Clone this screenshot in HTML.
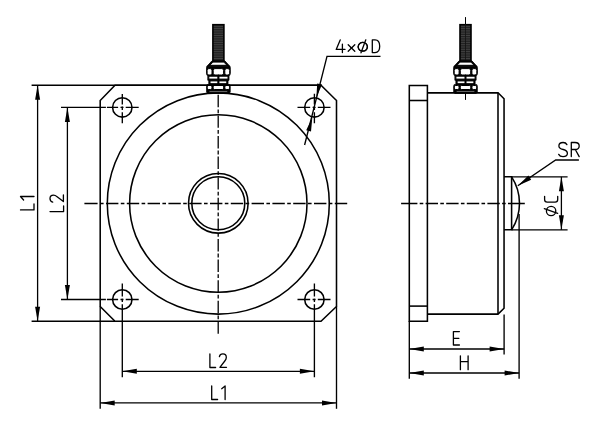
<!DOCTYPE html>
<html><head><meta charset="utf-8"><style>
html,body{margin:0;padding:0;background:#fff;width:600px;height:428px;overflow:hidden}
svg{display:block}
</style></head><body>
<svg width="600" height="428" viewBox="0 0 600 428" stroke="#000" fill="none">
<path d="M115,85.2 L321,85.2 L336.5,100.5 L336.5,306.5 L321,321.2 L115,321.2 L100.2,306.5 L100.2,100.5 Z" stroke-width="1.55" fill="none" />
<ellipse cx="218.3" cy="203.5" rx="111.0" ry="110.6" stroke-width="1.55" fill="none"/>
<circle cx="218.3" cy="203.5" r="88.7" stroke-width="1.55" fill="none"/>
<circle cx="218.3" cy="203.3" r="29.8" stroke-width="1.55" fill="none"/>
<circle cx="218.3" cy="203.3" r="26.5" stroke-width="1.55" fill="none"/>
<circle cx="122.3" cy="107.4" r="9.7" stroke-width="1.55" fill="none"/>
<circle cx="314.4" cy="107.4" r="9.7" stroke-width="1.55" fill="none"/>
<circle cx="122.3" cy="299.5" r="9.7" stroke-width="1.55" fill="none"/>
<circle cx="314.4" cy="299.5" r="9.7" stroke-width="1.55" fill="none"/>
<line x1="61" y1="107.4" x2="105.9" y2="107.4" stroke-width="1.35" />
<path d="M106.9,107.4 L118.1,107.4 M120.5,107.4 L123.5,107.4 M125.7,107.4 L138.7,107.4" stroke-width="1.35" fill="none" />
<path d="M122.3,94.0 L122.3,104.4 M122.3,106.60000000000001 L122.3,110.0 M122.3,112.2 L122.3,123.3" stroke-width="1.35" fill="none" />
<path d="M297.5,107.4 L310.2,107.4 M312.59999999999997,107.4 L315.59999999999997,107.4 M317.79999999999995,107.4 L330.5,107.4" stroke-width="1.35" fill="none" />
<path d="M314.4,93.8 L314.4,104.4 M314.4,106.60000000000001 L314.4,110.0 M314.4,112.2 L314.4,123.3" stroke-width="1.35" fill="none" />
<line x1="61" y1="299.5" x2="105.9" y2="299.5" stroke-width="1.35" />
<path d="M106.9,299.5 L118.1,299.5 M120.5,299.5 L123.5,299.5 M125.7,299.5 L138.7,299.5" stroke-width="1.35" fill="none" />
<path d="M122.3,283.5 L122.3,296.5 M122.3,298.7 L122.3,302.1 M122.3,304.3 L122.3,377.2" stroke-width="1.35" fill="none" />
<path d="M297.5,299.5 L310.2,299.5 M312.59999999999997,299.5 L315.59999999999997,299.5 M317.79999999999995,299.5 L330.5,299.5" stroke-width="1.35" fill="none" />
<path d="M314.4,283.5 L314.4,296.5 M314.4,298.7 L314.4,302.1 M314.4,304.3 L314.4,377.2" stroke-width="1.35" fill="none" />
<path d="M84.40,203.50 L97.60,203.50 M100.00,203.50 L103.60,203.50 M106.00,203.50 L118.40,203.50 M120.80,203.50 L124.40,203.50 M126.80,203.50 L139.20,203.50 M141.60,203.50 L145.20,203.50 M147.60,203.50 L160.00,203.50 M162.40,203.50 L166.00,203.50 M168.40,203.50 L180.80,203.50 M183.20,203.50 L186.80,203.50 M189.20,203.50 L201.60,203.50 M204.00,203.50 L207.60,203.50 M210.00,203.50 L222.40,203.50 M224.80,203.50 L228.40,203.50 M230.80,203.50 L243.20,203.50 M245.60,203.50 L249.20,203.50 M251.60,203.50 L264.00,203.50 M266.40,203.50 L270.00,203.50 M272.40,203.50 L284.80,203.50 M287.20,203.50 L290.80,203.50 M293.20,203.50 L305.60,203.50 M308.00,203.50 L311.60,203.50 M314.00,203.50 L326.40,203.50 M328.80,203.50 L332.40,203.50 M334.80,203.50 L347.20,203.50" stroke-width="1.3" fill="none" />
<path d="M218.20,94.80 L218.20,107.20 M218.20,109.40 L218.20,113.20 M218.20,115.40 L218.20,127.80 M218.20,130.00 L218.20,133.80 M218.20,136.00 L218.20,148.40 M218.20,150.60 L218.20,154.40 M218.20,156.60 L218.20,169.00 M218.20,171.20 L218.20,175.00 M218.20,177.20 L218.20,189.60 M218.20,191.80 L218.20,195.60 M218.20,197.80 L218.20,210.20 M218.20,212.40 L218.20,216.20 M218.20,218.40 L218.20,230.80 M218.20,233.00 L218.20,236.80 M218.20,239.00 L218.20,251.40 M218.20,253.60 L218.20,257.40 M218.20,259.60 L218.20,272.00 M218.20,274.20 L218.20,278.00 M218.20,280.20 L218.20,292.60 M218.20,294.80 L218.20,298.60 M218.20,300.80 L218.20,313.20 M218.20,315.40 L218.20,319.20 M218.20,321.40 L218.20,333.80" stroke-width="1.3" fill="none" />
<line x1="31.6" y1="85.2" x2="115" y2="85.2" stroke-width="1.35" />
<line x1="31.6" y1="321.2" x2="115" y2="321.2" stroke-width="1.35" />
<line x1="100.2" y1="306.5" x2="100.2" y2="408.8" stroke-width="1.35" />
<line x1="336.5" y1="306.5" x2="336.5" y2="408.8" stroke-width="1.35" />
<line x1="37.6" y1="85.2" x2="37.6" y2="321.2" stroke-width="1.3" />
<path d="M37.60,85.20 L40.10,99.70 L35.10,99.70 Z" fill="#000" stroke="none"/>
<path d="M37.60,321.20 L35.10,306.70 L40.10,306.70 Z" fill="#000" stroke="none"/>
<line x1="67.4" y1="107.4" x2="67.4" y2="299.5" stroke-width="1.3" />
<path d="M67.40,107.40 L69.90,121.90 L64.90,121.90 Z" fill="#000" stroke="none"/>
<path d="M67.40,299.50 L64.90,285.00 L69.90,285.00 Z" fill="#000" stroke="none"/>
<line x1="100.2" y1="402.9" x2="336.5" y2="402.9" stroke-width="1.3" />
<path d="M100.20,402.90 L114.70,400.40 L114.70,405.40 Z" fill="#000" stroke="none"/>
<path d="M336.50,402.90 L322.00,405.40 L322.00,400.40 Z" fill="#000" stroke="none"/>
<line x1="122.3" y1="371.3" x2="314.4" y2="371.3" stroke-width="1.3" />
<path d="M122.30,371.30 L136.80,368.80 L136.80,373.80 Z" fill="#000" stroke="none"/>
<path d="M314.40,371.30 L299.90,373.80 L299.90,368.80 Z" fill="#000" stroke="none"/>
<path d="M380.5,56.3 L327,56.3 L304.6,145" stroke-width="1.35" fill="none" />
<path d="M316.40,97.60 L317.17,83.43 L322.03,84.57 Z" fill="#000" stroke="none"/>
<path d="M312.30,117.60 L311.01,131.57 L306.19,130.23 Z" fill="#000" stroke="none"/>
<path d="M409.3,85.5 L427.4,85.5 L427.4,321.3 L409.3,321.3 Z" stroke-width="1.55" fill="none" />
<line x1="409.3" y1="100.5" x2="427.4" y2="100.5" stroke-width="1.55" />
<line x1="409.3" y1="306.1" x2="427.4" y2="306.1" stroke-width="1.55" />
<path d="M427.4,92.75 L498.0,92.75 L504.05,98.8 L504.05,308.2 L498.0,314.1 L427.4,314.1" stroke-width="1.55" fill="none" />
<line x1="498.0" y1="92.75" x2="498.0" y2="314.1" stroke-width="1.55" />
<path d="M504.1,176.8 L511.6,176.8 L511.6,229.8 L504.1,229.8" stroke-width="1.55" fill="none" />
<path d="M511.6,176.8 A48.40,48.40 0 0 1 511.6,229.8" stroke-width="1.55" fill="none" />
<path d="M401.10,203.50 L417.40,203.50 M419.70,203.50 L423.30,203.50 M425.60,203.50 L438.00,203.50 M440.30,203.50 L443.90,203.50 M446.20,203.50 L458.60,203.50 M460.90,203.50 L464.50,203.50 M466.80,203.50 L479.20,203.50 M481.50,203.50 L485.10,203.50 M487.40,203.50 L499.80,203.50 M502.10,203.50 L505.70,203.50 M508.00,203.50 L524.80,203.50" stroke-width="1.3" fill="none" />
<line x1="465.5" y1="17.1" x2="465.5" y2="99.7" stroke-width="1.0" />
<line x1="409.3" y1="321.1" x2="409.3" y2="378.8" stroke-width="1.35" />
<line x1="504.1" y1="314.5" x2="504.1" y2="354.5" stroke-width="1.35" />
<line x1="519.1" y1="214" x2="519.1" y2="378.8" stroke-width="1.35" />
<line x1="511.6" y1="176.8" x2="567.6" y2="176.8" stroke-width="1.35" />
<line x1="511.6" y1="229.8" x2="567.6" y2="229.8" stroke-width="1.35" />
<line x1="409.3" y1="349.0" x2="504.1" y2="349.0" stroke-width="1.3" />
<path d="M409.30,349.00 L423.80,346.50 L423.80,351.50 Z" fill="#000" stroke="none"/>
<path d="M504.10,349.00 L489.60,351.50 L489.60,346.50 Z" fill="#000" stroke="none"/>
<line x1="409.3" y1="373.0" x2="519.1" y2="373.0" stroke-width="1.3" />
<path d="M409.30,373.00 L423.80,370.50 L423.80,375.50 Z" fill="#000" stroke="none"/>
<path d="M519.10,373.00 L504.60,375.50 L504.60,370.50 Z" fill="#000" stroke="none"/>
<line x1="561.4" y1="176.8" x2="561.4" y2="229.8" stroke-width="1.3" />
<path d="M561.40,176.80 L563.90,191.30 L558.90,191.30 Z" fill="#000" stroke="none"/>
<path d="M561.40,229.80 L558.90,215.30 L563.90,215.30 Z" fill="#000" stroke="none"/>
<path d="M578.9,160 L555.7,160 L517.8,185.8" stroke-width="1.35" fill="none" />
<path d="M517.80,185.80 L528.39,175.54 L531.21,179.66 Z" fill="#000" stroke="none"/>
<rect x="212.9" y="24.7" width="11" height="37" fill="#222" stroke="#000" stroke-width="1.6"/>
<path d="M213.8,26.30 H223.0 M213.8,28.60 H223.0 M213.8,30.90 H223.0 M213.8,33.20 H223.0 M213.8,35.50 H223.0 M213.8,37.80 H223.0 M213.8,40.10 H223.0 M213.8,42.40 H223.0 M213.8,44.70 H223.0 M213.8,47.00 H223.0 M213.8,49.30 H223.0 M213.8,51.60 H223.0 M213.8,53.90 H223.0 M213.8,56.20 H223.0 M213.8,58.50 H223.0" stroke="#4a4a4a" stroke-width="0.8"/>
<path d="M212.0,60.8 L224.8,60.8 L229.20000000000002,65.6 L229.8,65.9 L230.3,67.6 L230.3,73.6 L229.8,75.3 L229.0,75.4 L229.0,80.3 L228.0,80.4 L228.0,84.6 L229.8,84.7 L230.20000000000002,86.2 L230.20000000000002,92.0 L229.20000000000002,93.4 L207.6,93.4 L206.6,92.0 L206.6,86.2 L207.0,84.7 L208.8,84.6 L208.8,80.4 L207.8,80.3 L207.8,75.4 L207.0,75.3 L206.5,73.6 L206.5,67.6 L207.0,65.9 L207.6,65.6 Z" fill="#000" stroke="#000" stroke-width="0.8" stroke-linejoin="round"/>
<path d="M213.0,62.1 L223.8,62.1 L227.0,65.3 L209.8,65.3 Z" fill="#fff"/>
<rect x="208.8" y="66.75" width="19.2" height="0.8" fill="#bbb"/>
<rect x="207.1" y="68.6" width="4.90" height="6.4" rx="1.8" fill="#fff"/>
<rect x="213.20000000000002" y="68.6" width="10.40" height="6.4" rx="1.8" fill="#fff"/>
<rect x="224.8" y="68.6" width="4.90" height="6.4" rx="1.8" fill="#fff"/>
<rect x="208.8" y="76.2" width="9.10" height="2.9" fill="#fff"/>
<rect x="218.9" y="76.2" width="9.10" height="2.9" fill="#fff"/>
<rect x="210.0" y="80.9" width="7.90" height="2.8" fill="#fff"/>
<rect x="218.9" y="80.9" width="7.90" height="2.8" fill="#fff"/>
<rect x="207.20000000000002" y="85.5" width="4.80" height="4.0" rx="1.4" fill="#fff"/>
<rect x="213.1" y="85.5" width="10.60" height="4.0" rx="1.4" fill="#fff"/>
<rect x="224.8" y="85.5" width="4.80" height="4.0" rx="1.4" fill="#fff"/>
<rect x="209.0" y="90.9" width="18.8" height="1.5" fill="#c8c8c8"/>
<line x1="218.4" y1="74.6" x2="218.4" y2="85.5" stroke="#000" stroke-width="1.0"/>
<rect x="460.0" y="24.7" width="11" height="37" fill="#222" stroke="#000" stroke-width="1.6"/>
<path d="M460.9,26.30 H470.1 M460.9,28.60 H470.1 M460.9,30.90 H470.1 M460.9,33.20 H470.1 M460.9,35.50 H470.1 M460.9,37.80 H470.1 M460.9,40.10 H470.1 M460.9,42.40 H470.1 M460.9,44.70 H470.1 M460.9,47.00 H470.1 M460.9,49.30 H470.1 M460.9,51.60 H470.1 M460.9,53.90 H470.1 M460.9,56.20 H470.1 M460.9,58.50 H470.1" stroke="#4a4a4a" stroke-width="0.8"/>
<line x1="465.5" y1="24" x2="465.5" y2="61" stroke="#111" stroke-width="0.8"/>
<path d="M459.1,60.8 L471.9,60.8 L476.3,65.6 L476.9,65.9 L477.4,67.6 L477.4,73.6 L476.9,75.3 L476.1,75.4 L476.1,80.3 L475.1,80.4 L475.1,84.6 L476.9,84.7 L477.3,86.2 L477.3,92.0 L476.3,93.4 L454.7,93.4 L453.7,92.0 L453.7,86.2 L454.1,84.7 L455.9,84.6 L455.9,80.4 L454.9,80.3 L454.9,75.4 L454.1,75.3 L453.6,73.6 L453.6,67.6 L454.1,65.9 L454.7,65.6 Z" fill="#000" stroke="#000" stroke-width="0.8" stroke-linejoin="round"/>
<path d="M460.1,62.1 L470.9,62.1 L474.1,65.3 L456.9,65.3 Z" fill="#fff"/>
<rect x="455.9" y="66.75" width="19.2" height="0.8" fill="#bbb"/>
<rect x="454.2" y="68.6" width="4.90" height="6.4" rx="1.8" fill="#fff"/>
<rect x="460.3" y="68.6" width="10.40" height="6.4" rx="1.8" fill="#fff"/>
<rect x="471.9" y="68.6" width="4.90" height="6.4" rx="1.8" fill="#fff"/>
<rect x="455.9" y="76.2" width="9.10" height="2.9" fill="#fff"/>
<rect x="466.0" y="76.2" width="9.10" height="2.9" fill="#fff"/>
<rect x="457.1" y="80.9" width="7.90" height="2.8" fill="#fff"/>
<rect x="466.0" y="80.9" width="7.90" height="2.8" fill="#fff"/>
<rect x="454.3" y="85.5" width="4.80" height="4.0" rx="1.4" fill="#fff"/>
<rect x="460.2" y="85.5" width="10.60" height="4.0" rx="1.4" fill="#fff"/>
<rect x="471.9" y="85.5" width="4.80" height="4.0" rx="1.4" fill="#fff"/>
<rect x="456.1" y="90.9" width="18.8" height="1.5" fill="#c8c8c8"/>
<line x1="465.5" y1="74.6" x2="465.5" y2="85.5" stroke="#000" stroke-width="1.0"/>
<line x1="115" y1="85.2" x2="321" y2="85.2" stroke-width="1.55" />
<line x1="427.4" y1="92.75" x2="498.0" y2="92.75" stroke-width="1.55" />
<line x1="465.5" y1="93" x2="465.5" y2="99.7" stroke-width="1.0" />
<path d="M209.9,353.9 V367.5 H215.6" stroke-width="1.3" fill="none" stroke-linecap="round" stroke-linejoin="round" />
<path d="M219.4,356.6 C219.8,354.6 221.2,353.9 222.9,353.9 C225,353.9 226.3,355.3 226.3,357.4 C226.3,358.8 225.6,360 224.8,361 L219.9,367.3 H226.5" stroke-width="1.3" fill="none" stroke-linecap="round" stroke-linejoin="round" />
<path d="M211.7,386 V399.5 H217.6" stroke-width="1.3" fill="none" stroke-linecap="round" stroke-linejoin="round" />
<path d="M221.7,388.7 L225.1,386 V399.5" stroke-width="1.3" fill="none" stroke-linecap="round" stroke-linejoin="round" />
<path d="M459.4,331.6 H453.4 V345 H459.4 M453.4,338.3 H458.9" stroke-width="1.3" fill="none" stroke-linecap="round" stroke-linejoin="round" />
<path d="M460.4,355.8 V369.7 M468.1,355.8 V369.7 M460.4,361.6 H468.1" stroke-width="1.3" fill="none" stroke-linecap="round" stroke-linejoin="round" />
<path d="M340.2,39.9 L336.2,49.4 H345 M342.4,44.2 V52.6" stroke-width="1.3" fill="none" stroke-linecap="round" stroke-linejoin="round" />
<path d="M348.2,44.8 L354.8,51.2 M354.8,44.8 L348.2,51.2" stroke-width="1.3" fill="none" stroke-linecap="round" stroke-linejoin="round" />
<path d="M362.8,42.4 A4.6,4.4 0 1 1 362.79,42.4 Z M361,52.8 L365.8,39.8" stroke-width="1.3" fill="none" stroke-linecap="round" stroke-linejoin="round" />
<ellipse cx="362.8" cy="46.8" rx="4.6" ry="4.4" stroke-width="1.3" fill="none"/>
<path d="M372.3,39.9 V52.6 H375 C378.2,52.6 379.7,50.4 379.7,46.3 C379.7,42.1 378.2,39.9 375,39.9 Z" stroke-width="1.3" fill="none" stroke-linecap="round" stroke-linejoin="round" />
<path d="M566.9,144.6 C566.2,143.2 565,142.5 563.1,142.5 C560.6,142.5 558.9,143.8 558.9,145.9 C558.9,148.2 560.9,148.9 563.2,149.5 C565.8,150.2 567.4,151.2 567.4,153.3 C567.4,155.4 565.6,156.6 563,156.6 C560.9,156.6 559.4,155.8 558.7,154.4" stroke-width="1.3" fill="none" stroke-linecap="round" stroke-linejoin="round" />
<path d="M571.3,156.6 V142.5 H575 C577.8,142.5 579.2,143.8 579.2,146 C579.2,148.2 577.8,149.5 575,149.5 H571.3 M575.3,149.5 L579.2,156.6" stroke-width="1.3" fill="none" stroke-linecap="round" stroke-linejoin="round" />
<g transform="translate(20.5,209.9) rotate(-90)"><path d="M0,0 V13.5 H6" stroke-width="1.3" fill="none" stroke-linecap="round" stroke-linejoin="round"/></g>
<g transform="translate(20.5,209.9) rotate(-90)"><path d="M9.9,3.1 L13.4,0 V13.5" stroke-width="1.3" fill="none" stroke-linecap="round" stroke-linejoin="round"/></g>
<g transform="translate(50.0,211.6) rotate(-90)"><path d="M0,0 V13.6 H5.6" stroke-width="1.3" fill="none" stroke-linecap="round" stroke-linejoin="round"/></g>
<g transform="translate(50.0,211.6) rotate(-90)"><path d="M9.5,2.7 C9.9,0.7 11.3,0 13,0 C15.1,0 16.4,1.4 16.4,3.5 C16.4,4.9 15.7,6.1 14.9,7.1 L10,13.4 H16.6" stroke-width="1.3" fill="none" stroke-linecap="round" stroke-linejoin="round"/></g>
<path d="M544.6,196.3 V199.6 Q544.6,202.2 547.2,202.2 H555.1 Q557.7,202.2 557.7,199.6 V196.3" stroke-width="1.3" fill="none" stroke-linecap="round" stroke-linejoin="round" />
<circle cx="551.1" cy="211" r="4.7" stroke-width="1.3" fill="none"/>
<path d="M544.3,208.7 L557.7,213.3" stroke-width="1.3" fill="none" stroke-linecap="round" stroke-linejoin="round" />
</svg></body></html>
